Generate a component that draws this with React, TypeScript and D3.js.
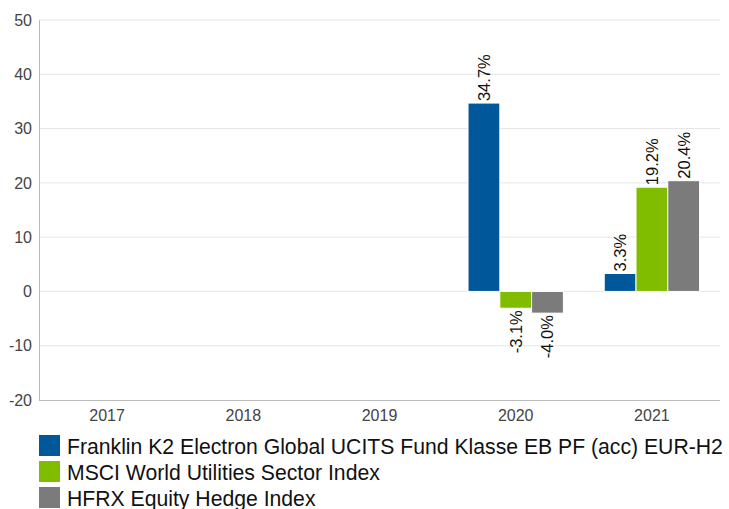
import React, { useEffect, useRef } from 'react';
import * as d3 from 'd3';

const years = ['2017', '2018', '2019', '2020', '2021'];
const seriesNames = [
	'Franklin K2 Electron Global UCITS Fund Klasse EB PF (acc) EUR-H2',
	'MSCI World Utilities Sector Index',
	'HFRX Equity Hedge Index',
];
const seriesColors = ['#00579a', '#80bc00', '#7b7b7b'];
// null = no data for that year
const fundValues: (number | null)[] = [null, null, null, 34.7, 3.3];
const msciValues: (number | null)[] = [null, null, null, -3.1, 19.2];
const hfrxValues: (number | null)[] = [null, null, null, -4.0, 20.4];
const yTicks = [-20, -10, 0, 10, 20, 30, 40, 50];

const W = 729;
const H = 509;

const App: React.FC = () => {
	const ref = useRef<SVGSVGElement>(null);

	useEffect(() => {
		document.body.style.margin = '0';
		if (!ref.current) return;
		const svg = d3.select(ref.current);
		svg.selectAll('*').remove();

		const left = 39;
		const right = 720;
		const top = 20;
		const bottom = 400;
		const font = 'Arial, "Liberation Sans", sans-serif';

		const x0 = d3.scaleBand().domain(years).range([left, right]);
		const x1 = d3
			.scaleBand<number>()
			.domain([0, 1, 2])
			.range([x0.bandwidth() * 0.15, x0.bandwidth() * 0.85]);
		const y = d3.scaleLinear().domain([-20, 50]).range([bottom, top]);

		// gridlines
		svg
			.append('g')
			.selectAll('line')
			.data(yTicks.filter((t) => t !== -20))
			.enter()
			.append('line')
			.attr('x1', left)
			.attr('x2', right)
			.attr('y1', (d) => y(d))
			.attr('y2', (d) => y(d))
			.attr('stroke', '#e6e6e6')
			.attr('stroke-width', 1);

		// y labels
		svg
			.append('g')
			.selectAll('text')
			.data(yTicks)
			.enter()
			.append('text')
			.attr('x', left - 7)
			.attr('y', (d) => y(d))
			.attr('dy', '0.36em')
			.attr('text-anchor', 'end')
			.attr('font-family', font)
			.attr('font-size', 16)
			.attr('fill', '#444')
			.text((d) => d);

		// axes lines
		svg
			.append('line')
			.attr('x1', left + 0.5)
			.attr('x2', left + 0.5)
			.attr('y1', top)
			.attr('y2', bottom)
			.attr('stroke', '#bbb');
		svg
			.append('line')
			.attr('x1', left)
			.attr('x2', right)
			.attr('y1', bottom + 0.5)
			.attr('y2', bottom + 0.5)
			.attr('stroke', '#bbb');

		// x labels
		svg
			.append('g')
			.selectAll('text')
			.data(years)
			.enter()
			.append('text')
			.attr('x', (d) => (x0(d) ?? 0) + x0.bandwidth() / 2)
			.attr('y', bottom + 21)
			.attr('text-anchor', 'middle')
			.attr('font-family', font)
			.attr('font-size', 16)
			.attr('fill', '#444')
			.text((d) => d);

		const allSeries = [fundValues, msciValues, hfrxValues];
		const bars = years.flatMap((yr, i) =>
			allSeries
				.map((s, k) => ({ yr, k, v: s[i] }))
				.filter((d) => d.v !== null) as { yr: string; k: number; v: number }[],
		);

		const groups = svg
			.append('g')
			.selectAll('g')
			.data(bars)
			.enter()
			.append('g')
			.attr('transform', (d) => `translate(${(x0(d.yr) ?? 0) + (x1(d.k) ?? 0)},0)`);

		groups
			.append('rect')
			.attr('x', 0)
			.attr('width', x1.bandwidth())
			.attr('y', (d) => y(Math.max(0, d.v)))
			.attr('height', (d) => Math.abs(y(d.v) - y(0)))
			.attr('fill', (d) => seriesColors[d.k])
			.attr('stroke', '#ffffff')
			.attr('stroke-width', 1);

		groups
			.append('text')
			.attr('transform', (d) => {
				const cx = x1.bandwidth() / 2;
				const yy = d.v >= 0 ? y(d.v) - 2 : y(d.v) + 2;
				return `translate(${cx + 6},${yy}) rotate(-90)`;
			})
			.attr('text-anchor', (d) => (d.v >= 0 ? 'start' : 'end'))
			.attr('font-family', font)
			.attr('font-size', 16.5)
			.attr('fill', '#111')
			.text((d) => `${d.v.toFixed(1)}%`);

		// legend
		const legend = svg
			.append('g')
			.selectAll('g')
			.data(seriesNames)
			.enter()
			.append('g')
			.attr('transform', (_d, i) => `translate(39,${435 + i * 26})`);
		legend
			.append('rect')
			.attr('width', 21)
			.attr('height', 21)
			.attr('fill', (_d, i) => seriesColors[i]);
		legend
			.append('text')
			.attr('x', 28)
			.attr('y', 18.5)
			.attr('font-family', font)
			.attr('font-size', 21.2)
			.attr('fill', '#111')
			.text((d) => d);
	}, []);

	return <svg ref={ref} width={W} height={H} style={{ display: 'block', background: '#fff' }} />;
};

export default App;
